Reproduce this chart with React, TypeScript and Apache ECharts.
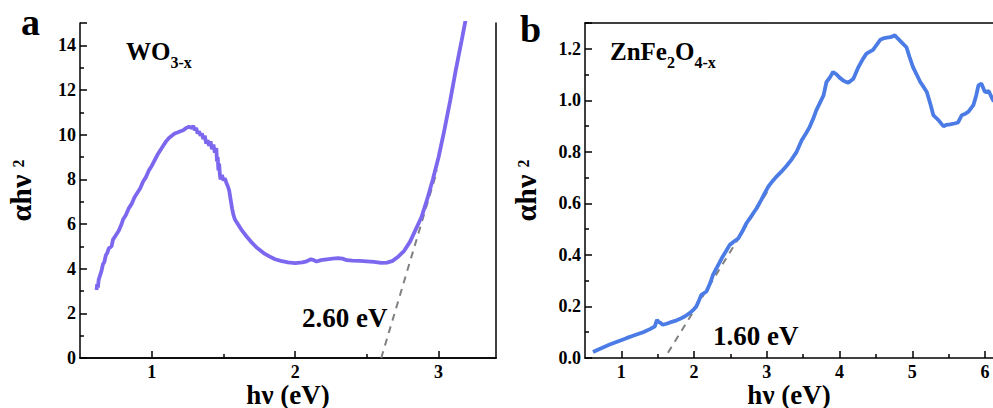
import React, { useEffect, useRef } from "react";
import * as echarts from "echarts";

// ---- data ----
const wo3Curve: [number, number][] = [
  [0.615, 3.05], [0.62, 3.3], [0.625, 3.15], [0.63, 3.5], [0.64, 3.7], [0.65, 3.9], [0.66, 4.2], [0.67, 4.3],
  [0.68, 4.6], [0.69, 4.7], [0.7, 4.9], [0.72, 5.0], [0.73, 5.3], [0.75, 5.5], [0.77, 5.7], [0.79, 6.0],
  [0.8, 6.2], [0.82, 6.4], [0.84, 6.7], [0.86, 6.9], [0.88, 7.2], [0.9, 7.4], [0.92, 7.6], [0.94, 7.9],
  [0.96, 8.1], [0.98, 8.4], [1.0, 8.6], [1.02, 8.85], [1.04, 9.1], [1.06, 9.3], [1.08, 9.5], [1.1, 9.7],
  [1.12, 9.85], [1.14, 9.95], [1.16, 10.05], [1.18, 10.1], [1.2, 10.15], [1.22, 10.2], [1.24, 10.3],
  [1.26, 10.35], [1.28, 10.3], [1.29, 10.4], [1.3, 10.2], [1.31, 10.3], [1.32, 10.05], [1.33, 10.15],
  [1.34, 9.95], [1.35, 10.05], [1.36, 9.8], [1.37, 9.95], [1.38, 9.6], [1.39, 9.75], [1.4, 9.5], [1.41, 9.7],
  [1.42, 9.35], [1.43, 9.55], [1.44, 9.2], [1.45, 9.4], [1.455, 8.8], [1.46, 9.0], [1.465, 8.4], [1.47, 8.7],
  [1.475, 8.2], [1.48, 8.0], [1.49, 8.2], [1.5, 7.95], [1.51, 8.05], [1.52, 7.85], [1.53, 7.7], [1.54, 7.5],
  [1.55, 7.1], [1.56, 6.7], [1.57, 6.4], [1.58, 6.2], [1.6, 6.0], [1.63, 5.7], [1.66, 5.45], [1.7, 5.15],
  [1.74, 4.9], [1.78, 4.7], [1.82, 4.55], [1.86, 4.42], [1.9, 4.35], [1.95, 4.28], [2.0, 4.25], [2.05, 4.28],
  [2.08, 4.33], [2.11, 4.42], [2.13, 4.38], [2.15, 4.32], [2.18, 4.38], [2.22, 4.42], [2.26, 4.45],
  [2.3, 4.47], [2.33, 4.45], [2.36, 4.38], [2.4, 4.36], [2.45, 4.35], [2.5, 4.33], [2.55, 4.3], [2.6, 4.26],
  [2.64, 4.27], [2.68, 4.35], [2.72, 4.55], [2.76, 4.8], [2.8, 5.2], [2.84, 5.75], [2.88, 6.3], [2.92, 7.1],
  [2.96, 8.0], [3.0, 9.0], [3.04, 10.2], [3.08, 11.5], [3.12, 12.9], [3.16, 14.2], [3.19, 15.2],
];
const wo3Fit: [number, number][] = [[2.6, 0], [2.99, 8.4]];

const znfeCurve: [number, number][] = [
  [0.61, 0.023], [0.7, 0.035], [0.84, 0.052], [0.95, 0.064], [1.07, 0.077], [1.18, 0.088], [1.3, 0.1],
  [1.4, 0.113], [1.46, 0.123], [1.48, 0.14], [1.49, 0.148], [1.51, 0.14], [1.53, 0.138], [1.57, 0.129],
  [1.62, 0.133], [1.67, 0.138], [1.74, 0.144], [1.8, 0.151], [1.87, 0.161], [1.94, 0.174], [2.0, 0.19],
  [2.03, 0.2], [2.07, 0.225], [2.1, 0.245], [2.17, 0.258], [2.22, 0.29], [2.26, 0.323], [2.32, 0.355],
  [2.38, 0.387], [2.44, 0.415], [2.49, 0.439], [2.55, 0.452], [2.61, 0.465], [2.67, 0.495], [2.72, 0.523],
  [2.79, 0.552], [2.86, 0.581], [2.92, 0.612], [2.97, 0.639], [3.02, 0.665], [3.06, 0.68], [3.13, 0.703],
  [3.2, 0.723], [3.27, 0.745], [3.34, 0.77], [3.41, 0.8], [3.48, 0.845], [3.54, 0.872], [3.59, 0.897],
  [3.64, 0.93], [3.68, 0.961], [3.73, 0.99], [3.78, 1.019], [3.82, 1.071], [3.87, 1.09], [3.91, 1.11],
  [3.96, 1.1], [4.0, 1.088], [4.06, 1.075], [4.12, 1.068], [4.19, 1.084], [4.26, 1.129], [4.32, 1.16],
  [4.37, 1.181], [4.46, 1.196], [4.51, 1.215], [4.56, 1.235], [4.6, 1.24], [4.65, 1.243], [4.7, 1.245],
  [4.76, 1.252], [4.8, 1.24], [4.85, 1.226], [4.92, 1.206], [4.96, 1.17], [5.01, 1.129], [5.06, 1.1],
  [5.11, 1.071], [5.16, 1.05], [5.2, 1.032], [5.25, 0.985], [5.29, 0.942], [5.36, 0.923], [5.43, 0.899],
  [5.47, 0.905], [5.52, 0.907], [5.58, 0.91], [5.63, 0.914], [5.68, 0.942], [5.73, 0.948], [5.77, 0.955],
  [5.84, 0.981], [5.88, 1.02], [5.91, 1.058], [5.95, 1.065], [5.98, 1.045], [6.0, 1.032], [6.05, 1.036],
  [6.11, 1.0], [6.2, 0.985],
];
const znfeFit: [number, number][] = [[1.64, 0.02], [3.05, 0.665]];

const leftXMajor = [1, 2, 3];
const leftXMinor = [1.5, 2.5];
const rightXMajor = [1, 2, 3, 4, 5, 6];
const rightXMinor = [1.5, 2.5, 3.5, 4.5, 5.5];

const FONT = "'Liberation Serif', 'Times New Roman', Times, serif";
const labelStyle = { fontFamily: FONT, fontWeight: "bold" as const, fontSize: 18, color: "#000" };

function xAxes(gridIndex: number, min: number, max: number, major: number[], minor: number[]) {
  return [
    {
      gridIndex, type: "value", min, max,
      axisLine: { show: true, onZero: false, lineStyle: { color: "#000", width: 1.5 } },
      axisTick: { show: true, inside: true, length: 7, customValues: major, lineStyle: { color: "#000", width: 1.5 } },
      axisLabel: { ...labelStyle, lineHeight: 18, customValues: major, margin: 5 },
      splitLine: { show: false },
      name: "hν (eV)", nameLocation: "middle", nameGap: 24, nameMoveOverlap: false,
      nameTextStyle: { fontFamily: FONT, fontWeight: "bold", fontSize: 27, lineHeight: 25, color: "#000", verticalAlign: "top" },
    },
    {
      gridIndex, type: "value", min, max, position: "bottom",
      axisLine: { show: false },
      axisTick: { show: true, inside: true, length: 4, customValues: minor, lineStyle: { color: "#000", width: 1.5 } },
      axisLabel: { show: false },
      splitLine: { show: false },
    },
    {
      gridIndex, type: "value", min, max, position: "top",
      axisLine: { show: true, lineStyle: { color: "#000", width: 1.5 } },
      axisTick: { show: false },
      axisLabel: { show: false },
      splitLine: { show: false },
    },
  ];
}

function yAxes(gridIndex: number, max: number, interval: number, fmt: (v: number) => string, withRight: boolean) {
  const main = {
    gridIndex, type: "value", min: 0, max, interval,
    axisLine: { show: true, lineStyle: { color: "#000", width: 1.5 } },
    axisTick: { show: true, inside: true, length: 7, lineStyle: { color: "#000", width: 1.5 } },
    minorTick: { show: true, splitNumber: 2, length: 4, lineStyle: { color: "#000", width: 1.5 } },
    axisLabel: { ...labelStyle, margin: 4, formatter: fmt, showMaxLabel: false },
    splitLine: { show: false },
    name: "{a|αhν}{s|2}", nameLocation: "middle", nameGap: 43, nameMoveOverlap: false,
    nameTextStyle: {
      rich: {
        a: { fontFamily: FONT, fontWeight: "bold", fontSize: 30, lineHeight: 32, color: "#000", verticalAlign: "top" },
        s: { fontFamily: FONT, fontWeight: "bold", fontSize: 16, lineHeight: 16, color: "#000", verticalAlign: "top", padding: [5, 0, 0, 7] },
      },
    },
  };
  const right = {
    gridIndex, type: "value", min: 0, max, position: "right",
    axisLine: { show: true, lineStyle: { color: "#000", width: 1.5 } },
    axisTick: { show: false }, axisLabel: { show: false }, splitLine: { show: false },
  };
  return withRight ? [main, right] : [main];
}

const subRich = {
  a: { fontFamily: FONT, fontWeight: "bold", fontSize: 25, lineHeight: 25, color: "#000", verticalAlign: "top" },
  b: { fontFamily: FONT, fontWeight: "bold", fontSize: 16, lineHeight: 16, color: "#000", verticalAlign: "top", padding: [15, 0, 0, 0] },
};

export default function App() {
  const ref = useRef<HTMLDivElement>(null);
  useEffect(() => {
    document.body.style.margin = "0";
    const chart = echarts.init(ref.current!, undefined, { renderer: "svg" });
    chart.setOption({
      animation: false,
      backgroundColor: "#fff",
      grid: [
        { left: 80, top: 23, width: 416, height: 335, outerBoundsMode: "none", containLabel: false },
        { left: 585, top: 23, right: 0, height: 335, outerBoundsMode: "none", containLabel: false },
      ],
      xAxis: [
        ...xAxes(0, 0.5, 3.4, leftXMajor, leftXMinor),
        ...xAxes(1, 0.5, 6.11, rightXMajor, rightXMinor),
      ],
      yAxis: [
        ...yAxes(0, 15, 2, (v: number) => String(v), true),
        ...yAxes(1, 1.3, 0.2, (v: number) => v.toFixed(1), false),
      ],
      series: [
        { type: "line", xAxisIndex: 0, yAxisIndex: 0, data: wo3Fit, showSymbol: false, z: 1,
          lineStyle: { color: "#808080", width: 2, type: [7, 6] } },
        { type: "line", xAxisIndex: 0, yAxisIndex: 0, data: wo3Curve, showSymbol: false, z: 2,
          lineStyle: { color: "#7B68EE", width: 3.8 } },
        { type: "line", xAxisIndex: 3, yAxisIndex: 2, data: znfeFit, showSymbol: false, z: 1,
          lineStyle: { color: "#808080", width: 2, type: [7, 6] } },
        { type: "line", xAxisIndex: 3, yAxisIndex: 2, data: znfeCurve, showSymbol: false, z: 2,
          lineStyle: { color: "#4B7BE5", width: 3.8 } },
      ],
      graphic: [
        { type: "text", x: 21, y: 22, style: { text: "a", font: `bold 38px ${FONT}`, fill: "#000", textVerticalAlign: "middle" } },
        { type: "text", x: 520, y: 29, style: { text: "b", font: `bold 38px ${FONT}`, fill: "#000", textVerticalAlign: "middle" } },
        { type: "text", x: 126, y: 39, style: { text: "{a|WO}{b|3-x}", rich: subRich } },
        { type: "text", x: 610, y: 39, style: { text: "{a|ZnFe}{b|2}{a|O}{b|4-x}", rich: subRich } },
        { type: "text", x: 302, y: 318, style: { text: "2.60 eV", font: `bold 27px ${FONT}`, fill: "#000", textVerticalAlign: "middle" } },
        { type: "text", x: 713, y: 336, style: { text: "1.60 eV", font: `bold 27px ${FONT}`, fill: "#000", textVerticalAlign: "middle" } },
      ],
    });
    return () => chart.dispose();
  }, []);
  return <div ref={ref} style={{ width: 993, height: 408 }} />;
}
